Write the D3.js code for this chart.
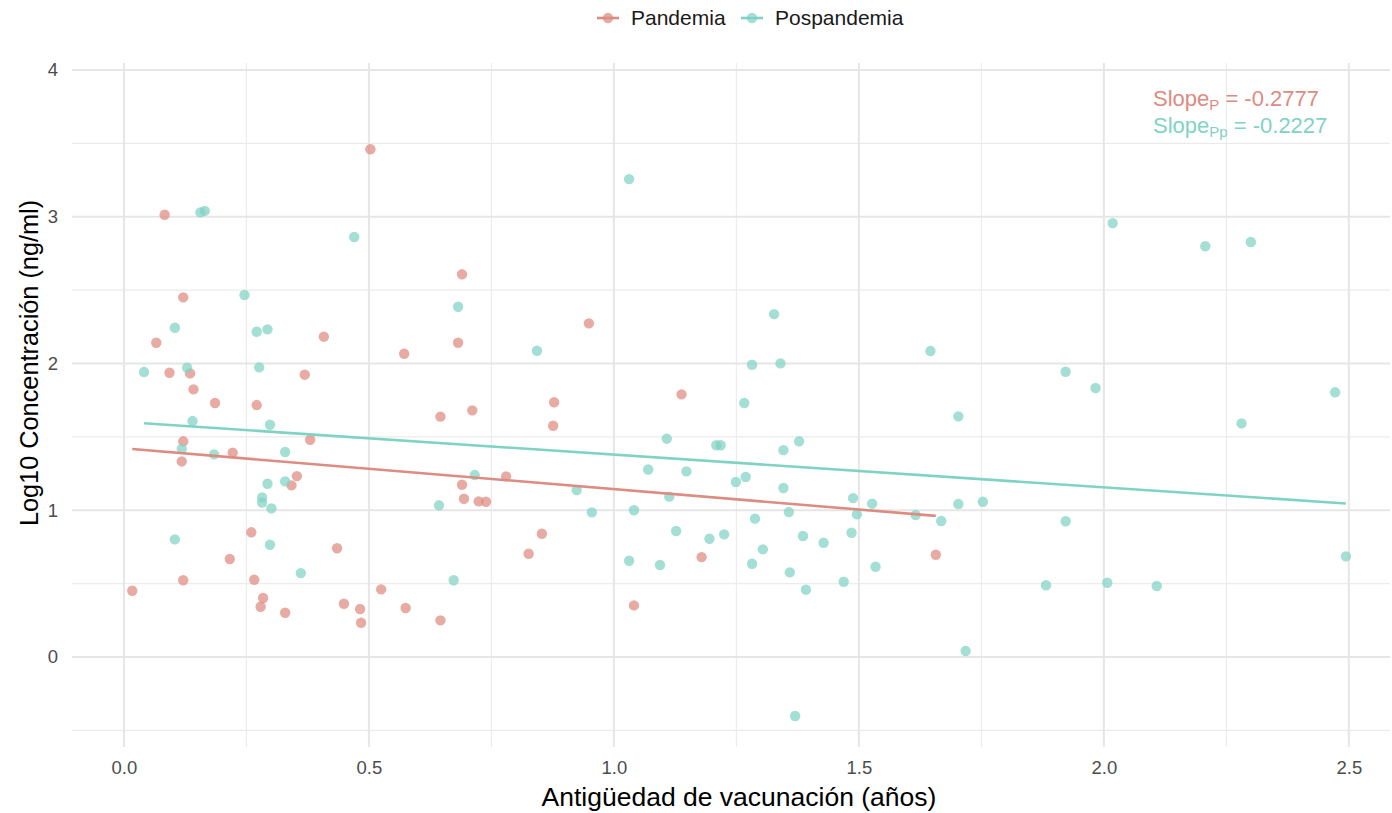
<!DOCTYPE html>
<html>
<head>
<meta charset="utf-8">
<script src="https://cdn.jsdelivr.net/npm/d3@7"></script>
<style>
  html, body { margin: 0; padding: 0; background: #ffffff; }
  svg { display: block; font-family: "Liberation Sans", Arial, Helvetica, sans-serif; }
</style>
</head>
<body>
<svg id="chart" width="1392" height="813"></svg>
<script>
// Antigüedad de vacunación (años) and log10 concentration, by period
const pandemiaX = [0.017, 0.083, 0.066, 0.093, 0.121, 0.135, 0.142, 0.186, 0.271, 0.369,
  0.408, 0.503, 0.121, 0.118, 0.222, 0.380, 0.353, 0.342, 0.260, 0.435,
  0.216, 0.121, 0.266, 0.525, 0.284, 0.279, 0.329, 0.449, 0.482, 0.484,
  0.575, 0.646, 0.572, 0.690, 0.682, 0.646, 0.711, 0.878, 0.876, 0.949,
  0.780, 0.690, 0.694, 0.724, 0.739, 0.853, 0.826, 1.041, 1.138, 1.179, 1.657];
const pandemiaY = [0.452, 3.014, 2.142, 1.937, 2.451, 1.933, 1.824, 1.731, 1.717, 1.924,
  2.183, 3.460, 1.470, 1.333, 1.392, 1.481, 1.233, 1.170, 0.850, 0.741,
  0.668, 0.523, 0.527, 0.461, 0.402, 0.343, 0.302, 0.363, 0.327, 0.234,
  0.334, 0.250, 2.067, 2.608, 2.142, 1.638, 1.681, 1.736, 1.576, 2.274,
  1.231, 1.174, 1.079, 1.061, 1.058, 0.840, 0.704, 0.352, 1.790, 0.681, 0.697];

const pospandemiaX = [0.041, 0.104, 0.129, 0.140, 0.156, 0.165, 0.246, 0.271, 0.293, 0.276,
  0.298, 0.470, 0.118, 0.184, 0.329, 0.293, 0.329, 0.282, 0.282, 0.301,
  0.104, 0.298, 0.361, 0.682, 0.843, 0.716, 0.643, 0.673, 0.924, 0.955,
  1.031, 1.041, 1.031, 1.070, 1.108, 1.113, 1.127, 1.148, 1.094, 1.195,
  1.209, 1.218, 1.225, 1.249, 1.269, 1.266, 1.282, 1.327, 1.340, 1.282,
  1.288, 1.304, 1.346, 1.378, 1.346, 1.357, 1.359, 1.386, 1.392, 1.370,
  1.428, 1.469, 1.485, 1.488, 1.496, 1.527, 1.534, 1.616, 1.646, 1.668,
  1.703, 1.703, 1.718, 1.753, 1.882, 1.922, 1.922, 1.983, 2.007, 2.018,
  2.108, 2.207, 2.281, 2.300, 2.472, 2.494];
const pospandemiaY = [1.942, 2.244, 1.971, 1.608, 3.030, 3.040, 2.467, 2.217, 2.233, 1.974,
  1.583, 2.862, 1.419, 1.381, 1.397, 1.181, 1.197, 1.088, 1.052, 1.013,
  0.802, 0.765, 0.572, 2.387, 2.087, 1.240, 1.034, 0.523, 1.138, 0.986,
  3.257, 1.000, 0.656, 1.278, 1.488, 1.093, 0.859, 1.265, 0.627, 0.806,
  1.443, 1.443, 0.836, 1.193, 1.227, 1.731, 1.992, 2.337, 2.001, 0.636,
  0.943, 0.734, 1.410, 1.470, 1.152, 0.988, 0.577, 0.825, 0.459, -0.402,
  0.779, 0.513, 0.847, 1.083, 0.972, 1.045, 0.615, 0.968, 2.085, 0.927,
  1.640, 1.043, 0.041, 1.058, 0.489, 1.944, 0.925, 1.833, 0.506, 2.957,
  0.484, 2.799, 1.592, 2.828, 1.804, 0.686];

// Linear fits per period
const groupNames = ["Pandemia", "Pospandemia"];
const groupSubscripts = ["P", "Pp"];
const slopes = [-0.2777, -0.2227];
const intercepts = [1.422, 1.602];
const groupColors = ["#DE8B81", "#7FD3C5"];

// Axis ticks
const xMajorTicks = [0, 0.5, 1.0, 1.5, 2.0, 2.5];
const xMinorTicks = [0.25, 0.75, 1.25, 1.75, 2.25];
const yMajorTicks = [0, 1, 2, 3, 4];
const yMinorTicks = [-0.5, 0.5, 1.5, 2.5, 3.5];

const svg = d3.select("#chart");
const panel = { left: 72, right: 1390, top: 63, bottom: 747 };

const x = d3.scaleLinear().domain([-0.106, 2.584]).range([panel.left, panel.right]);
const y = d3.scaleLinear().domain([-0.613, 4.048]).range([panel.bottom, panel.top]);

const grid = svg.append("g");
// minor grid
grid.selectAll("line.xmin").data(xMinorTicks).join("line")
  .attr("x1", d => x(d)).attr("x2", d => x(d))
  .attr("y1", panel.top).attr("y2", panel.bottom)
  .attr("stroke", "#EBEBEB").attr("stroke-width", 1.1);
grid.selectAll("line.ymin").data(yMinorTicks).join("line")
  .attr("y1", d => y(d)).attr("y2", d => y(d))
  .attr("x1", panel.left).attr("x2", panel.right)
  .attr("stroke", "#EBEBEB").attr("stroke-width", 1.1);
// major grid
grid.selectAll("line.xmaj").data(xMajorTicks).join("line")
  .attr("x1", d => x(d)).attr("x2", d => x(d))
  .attr("y1", panel.top).attr("y2", panel.bottom)
  .attr("stroke", "#E6E6E6").attr("stroke-width", 2);
grid.selectAll("line.ymaj").data(yMajorTicks).join("line")
  .attr("y1", d => y(d)).attr("y2", d => y(d))
  .attr("x1", panel.left).attr("x2", panel.right)
  .attr("stroke", "#E6E6E6").attr("stroke-width", 2);

// axes (labels only)
const xAxis = svg.append("g")
  .attr("transform", `translate(0,${panel.bottom + 4})`)
  .call(d3.axisBottom(x).tickValues(xMajorTicks).tickFormat(d3.format(".1f")).tickSize(0).tickPadding(10));
const yAxis = svg.append("g")
  .attr("transform", `translate(${panel.left - 8},0)`)
  .call(d3.axisLeft(y).tickValues(yMajorTicks).tickFormat(d3.format("d")).tickSize(0).tickPadding(6));
[xAxis, yAxis].forEach(a => {
  a.select(".domain").remove();
  a.selectAll("text")
    .attr("fill", "#4D4D4D")
    .style("font-size", "18.5px")
    .style("font-family", "'Liberation Sans', Arial, sans-serif");
});

// points
const series = [
  { xs: pandemiaX, ys: pandemiaY },
  { xs: pospandemiaX, ys: pospandemiaY }
];
const pts = svg.append("g");
series.forEach((s, i) => {
  pts.append("g").selectAll("circle")
    .data(s.xs.map((v, k) => [v, s.ys[k]]))
    .join("circle")
    .attr("cx", d => x(d[0]))
    .attr("cy", d => y(d[1]))
    .attr("r", 5.2)
    .attr("fill", groupColors[i])
    .attr("fill-opacity", 0.72);
});

// fitted lines over each period's range
const fitLines = svg.append("g");
series.forEach((s, i) => {
  const [x0, x1] = d3.extent(s.xs);
  const line = d3.line().x(d => x(d)).y(d => y(intercepts[i] + slopes[i] * d));
  fitLines.append("path")
    .attr("d", line([x0, x1]))
    .attr("fill", "none")
    .attr("stroke", groupColors[i])
    .attr("stroke-width", 2.6);
});

// slope annotation
const ann = svg.append("g").style("font-size", "22px");
slopes.forEach((sl, i) => {
  const t = ann.append("text")
    .attr("x", 1153)
    .attr("y", 106 + i * 27)
    .attr("fill", groupColors[i]);
  t.append("tspan").text("Slope");
  t.append("tspan").attr("dy", 4).style("font-size", "15px").text(groupSubscripts[i]);
  t.append("tspan").attr("dy", -4).text(" = " + sl.toFixed(4));
});

// legend
const legend = svg.append("g");
const legendKeys = [{ kx: 608, tx: 631 }, { kx: 752, tx: 775 }];
groupNames.forEach((name, i) => {
  const k = legendKeys[i];
  legend.append("line")
    .attr("x1", k.kx - 11).attr("x2", k.kx + 11)
    .attr("y1", 18).attr("y2", 18)
    .attr("stroke", groupColors[i]).attr("stroke-width", 2.6);
  legend.append("circle")
    .attr("cx", k.kx).attr("cy", 18).attr("r", 5.2)
    .attr("fill", groupColors[i]).attr("fill-opacity", 0.72);
  legend.append("text")
    .attr("x", k.tx).attr("y", 25)
    .attr("fill", "#1A1A1A")
    .style("font-size", "21px")
    .text(name);
});

// axis titles
svg.append("text")
  .attr("x", (panel.left + panel.right) / 2 + 8)
  .attr("y", 806)
  .attr("text-anchor", "middle")
  .attr("fill", "#000000")
  .style("font-size", "26.5px")
  .text("Antigüedad de vacunación (años)");
svg.append("text")
  .attr("transform", `translate(38,${363}) rotate(-90)`)
  .attr("text-anchor", "middle")
  .attr("fill", "#000000")
  .style("font-size", "25.3px")
  .text("Log10 Concentración (ng/ml)");
</script>
</body>
</html>
